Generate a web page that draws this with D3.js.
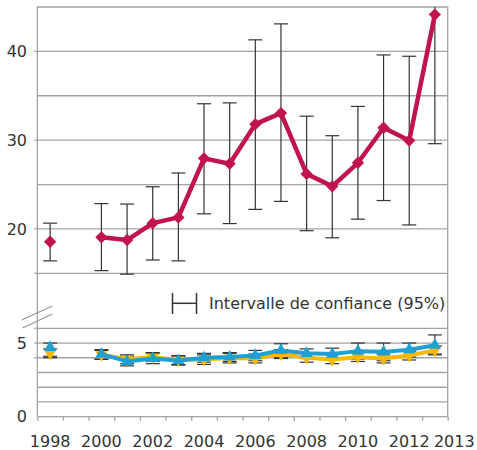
<!DOCTYPE html>
<html>
<head>
<meta charset="utf-8">
<style>
  body { margin: 0; background: #fff; }
  svg text { font-family: "DejaVu Sans", sans-serif; font-size: 16px; fill: #333; }
</style>
</head>
<body>
<svg width="477" height="450"></svg>
<script src="https://cdn.jsdelivr.net/npm/d3@7"></script>
<script>
    // années (1999 sans donnée)
    const years = [1998, 1999, 2000, 2001, 2002, 2003, 2004, 2005, 2006, 2007, 2008, 2009, 2010, 2011, 2012, 2013];
    const xLabels = ["1998", "2000", "2002", "2004", "2006", "2008", "2010", "2012", "2013"];

    // série haute (rouge) + intervalle de confiance
    const redVals = [18.55, null, 19.05, 18.75, 20.65, 21.3, 27.95, 27.35, 31.8, 33.05, 26.2, 24.8, 27.45, 31.4, 29.95, 44.15];
    const redHi   = [20.65, null, 22.85, 22.8, 24.75, 26.3, 34.1, 34.2, 41.3, 43.1, 32.7, 30.5, 33.8, 39.6, 39.45, 58.7];
    const redLo   = [16.4, null, 15.3, 14.9, 16.5, 16.4, 21.7, 20.6, 22.2, 23.1, 19.8, 19.0, 21.1, 23.2, 20.45, 29.6];

    // séries basses
    const yellowVals = [4.3, null, 4.2, 3.9, 4.05, 3.85, 3.88, 3.98, 3.95, 4.25, 4.0, 3.88, 4.04, 3.95, 4.15, 4.5];
    const yellowHi   = [4.6, null, 4.5, 4.2, 4.35, 4.15, 4.2, 4.3, 4.25, 4.55, 4.3, 4.2, 4.35, 4.25, 4.45, 4.8];
    const yellowLo   = [4.0, null, 3.9, 3.6, 3.75, 3.55, 3.55, 3.65, 3.65, 3.95, 3.7, 3.6, 3.75, 3.65, 3.85, 4.2];
    const blueVals = [4.7, null, 4.25, 3.75, 3.95, 3.8, 4.0, 4.05, 4.15, 4.5, 4.3, 4.25, 4.45, 4.4, 4.55, 4.85];
    const blueHi   = [5.0, null, 4.55, 4.1, 4.3, 4.1, 4.3, 4.35, 4.5, 4.95, 4.6, 4.65, 5.0, 5.0, 5.0, 5.55];
    const blueLo   = [4.1, null, 3.9, 3.45, 3.6, 3.5, 3.7, 3.75, 3.8, 4.0, 3.95, 3.85, 3.9, 3.8, 4.05, 4.25];

    const upperTicks = [40, 30, 20];
    const upperGrid = [40, 35, 30, 25, 20, 15];
    const lowerTicks = [5, 0];
    const lowerGrid = [6, 5, 4, 3, 2, 1, 0];

    const red = "#c0134f", yellow = "#f8b800", blue = "#1fa0d4";
    const gridCol = "#a3a3a3";

    const left = 37.3, right = 447.7;
    const x = d3.scaleLinear().domain([1998, 2014]).range([left, right]);
    const yUp = d3.scaleLinear().domain([15, 45]).range([273.3, 7]);
    const yLow = d3.scaleLinear().domain([0, 6]).range([416.7, 328.3]);

    const svg = d3.select("svg");

    svg.append("clipPath").attr("id", "clip")
        .append("rect").attr("x", 0).attr("y", yUp(45)).attr("width", 477).attr("height", 450);

    // grille
    svg.append("g").selectAll("line").data(upperGrid).join("line")
        .attr("x1", left).attr("x2", right)
        .attr("y1", d => yUp(d)).attr("y2", d => yUp(d))
        .attr("stroke", gridCol).attr("stroke-width", 1.3);
    svg.append("g").selectAll("line").data(lowerGrid).join("line")
        .attr("x1", left).attr("x2", right)
        .attr("y1", d => yLow(d)).attr("y2", d => yLow(d))
        .attr("stroke", gridCol).attr("stroke-width", 1.3);

    // cadre : haut, gauche, droite
    svg.append("path")
        .attr("d", `M${left},${yLow(0)}V${yUp(45)}H${right}V${yLow(0)}`)
        .attr("fill", "none").attr("stroke", gridCol).attr("stroke-width", 1.3);

    // graduations gauche
    svg.append("g").selectAll("line").data(upperTicks.concat([15])).join("line")
        .attr("x1", left - 3).attr("x2", left)
        .attr("y1", d => yUp(d)).attr("y2", d => yUp(d))
        .attr("stroke", gridCol).attr("stroke-width", 1.3);
    svg.append("g").selectAll("line").data([6, 5, 4]).join("line")
        .attr("x1", left - 3).attr("x2", left)
        .attr("y1", d => yLow(d)).attr("y2", d => yLow(d))
        .attr("stroke", gridCol).attr("stroke-width", 1.3);

    svg.append("g").selectAll("text").data(upperTicks).join("text")
        .attr("x", 27).attr("y", d => yUp(d)).attr("dy", "0.36em")
        .attr("text-anchor", "end").text(d => d);
    svg.append("g").selectAll("text").data(lowerTicks).join("text")
        .attr("x", 27).attr("y", d => yLow(d)).attr("dy", "0.36em")
        .attr("text-anchor", "end").text(d => d);

    // axe x
    const xAxis = d3.axisBottom(x).tickValues(d3.range(1998, 2015)).tickSize(4).tickFormat("");
    const gx = svg.append("g").attr("transform", `translate(0,${yLow(0)})`).call(xAxis);
    gx.select(".domain").remove();
    gx.selectAll(".tick line").attr("stroke", gridCol).attr("stroke-width", 1.3);

    svg.append("g").selectAll("text").data(xLabels).join("text")
        .attr("x", d => d === "2013" ? x(+d + 0.5) - 1 : x(+d + 0.5))
        .attr("y", 447)
        .attr("text-anchor", d => d === "2013" ? "start" : "middle")
        .text(d => d);

    // coupure de l'axe
    const brk = svg.append("g").attr("stroke", "#999").attr("stroke-width", 1.3);
    brk.append("line").attr("x1", 21.7).attr("y1", 320).attr("x2", 52.3).attr("y2", 306);
    brk.append("line").attr("x1", 22.5).attr("y1", 328).attr("x2", 52.3).attr("y2", 314);

    const pts = years.map((yr, i) => ({ yr: yr, i: i }));

    function errorBars(g, vals, hi, lo, ys) {
        const d = pts.filter(p => vals[p.i] != null);
        const eg = g.append("g").attr("stroke", "#333").attr("stroke-width", 1.2).attr("clip-path", "url(#clip)");
        eg.selectAll("line.v").data(d).join("line").attr("class", "v")
            .attr("x1", p => x(p.yr + 0.5)).attr("x2", p => x(p.yr + 0.5))
            .attr("y1", p => ys(hi[p.i])).attr("y2", p => ys(lo[p.i]));
        eg.selectAll("line.h").data(d).join("line").attr("class", "h")
            .attr("x1", p => x(p.yr + 0.5) - 7).attr("x2", p => x(p.yr + 0.5) + 7)
            .attr("y1", p => ys(hi[p.i])).attr("y2", p => ys(hi[p.i]));
        eg.selectAll("line.l").data(d).join("line").attr("class", "l")
            .attr("x1", p => x(p.yr + 0.5) - 7).attr("x2", p => x(p.yr + 0.5) + 7)
            .attr("y1", p => ys(lo[p.i])).attr("y2", p => ys(lo[p.i]));
    }

    function series(vals, ys, color, width, symbol, size, rot) {
        const line = d3.line()
            .defined(p => vals[p.i] != null)
            .x(p => x(p.yr + 0.5))
            .y(p => ys(vals[p.i]));
        svg.append("path").datum(pts).attr("d", line)
            .attr("fill", "none").attr("stroke", color).attr("stroke-width", width)
            .attr("stroke-linejoin", "round");
        svg.append("g").selectAll("path").data(pts.filter(p => vals[p.i] != null)).join("path")
            .attr("d", d3.symbol().type(symbol).size(size))
            .attr("transform", p => `translate(${x(p.yr + 0.5)},${ys(vals[p.i])}) rotate(${rot})`)
            .attr("fill", color);
    }

    errorBars(svg, redVals, redHi, redLo, yUp);
    errorBars(svg, yellowVals, yellowHi, yellowLo, yLow);
    errorBars(svg, blueVals, blueHi, blueLo, yLow);

    series(redVals, yUp, red, 4.5, d3.symbolSquare, 76, 45);
    series(yellowVals, yLow, yellow, 4, d3.symbolTriangle, 62, 180);
    series(blueVals, yLow, blue, 4, d3.symbolTriangle, 66, 0);

    // légende
    const lg = svg.append("g").attr("stroke", "#333").attr("stroke-width", 1.5);
    lg.append("line").attr("x1", 172.5).attr("x2", 196.5).attr("y1", 303.3).attr("y2", 303.3);
    lg.append("line").attr("x1", 172.5).attr("x2", 172.5).attr("y1", 293).attr("y2", 314);
    lg.append("line").attr("x1", 196.5).attr("x2", 196.5).attr("y1", 293).attr("y2", 314);
    svg.append("text").attr("x", 209).attr("y", 308.5).text("Intervalle de confiance (95%)");
</script>
</body>
</html>
